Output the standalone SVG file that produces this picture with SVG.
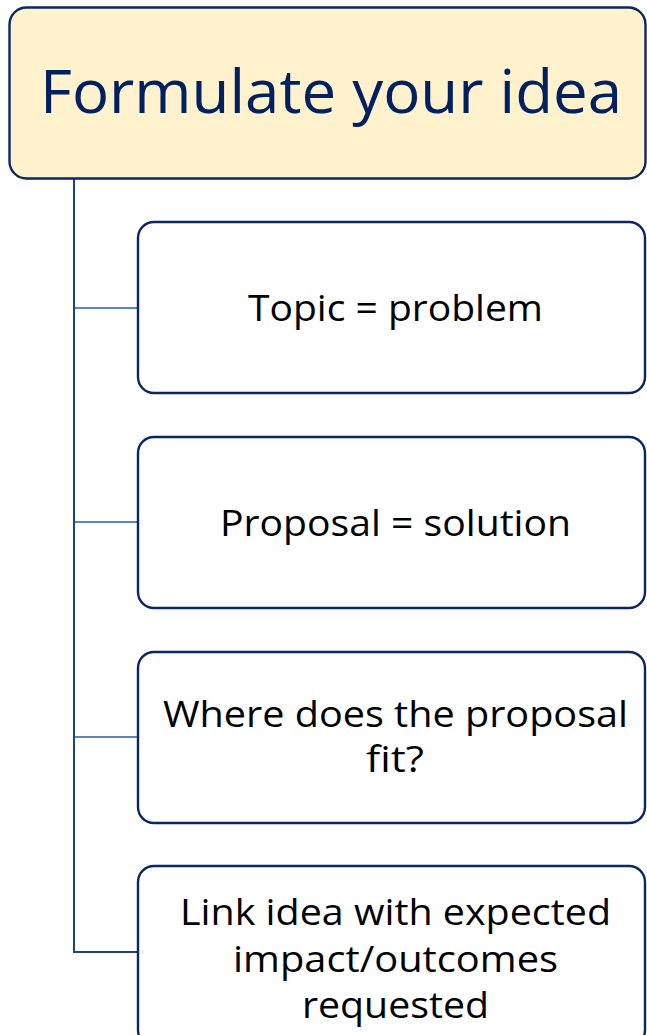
<svg xmlns="http://www.w3.org/2000/svg" width="647" height="1035" viewBox="0 0 647 1035">
<style>
.box{fill:#ffffff;stroke:#0b2664;stroke-width:2.4}
.hdr{fill:#fff2cc;stroke:#0b2664;stroke-width:2.4}
.t{font-family:"Open Sans","Liberation Sans",sans-serif;font-size:36px;fill:#000000;text-anchor:middle}
.h{font-family:"Open Sans","Liberation Sans",sans-serif;font-size:61px;fill:#002060;text-anchor:middle}
.v{stroke:#1e4383;stroke-width:2;fill:none}
.b{stroke:#5787c0;stroke-width:2;fill:none}
</style>
<rect width="647" height="1035" fill="#ffffff"/>
<g id="connectors">
<path class="v" d="M74 179 V952 H138"/>
<path class="b" d="M75 308 H138"/>
<path class="b" d="M75 522 H138"/>
<path class="b" d="M75 737 H138"/>
</g>
<g id="header">
<rect class="hdr" x="9.5" y="7.5" width="636" height="171" rx="17"/>
<text class="h" x="331" y="113" textLength="582" lengthAdjust="spacingAndGlyphs">Formulate your idea</text>
</g>
<g id="node1">
<rect class="box" x="138" y="222" width="507" height="171" rx="16"/>
<text class="t" x="395.5" y="321" textLength="295" lengthAdjust="spacingAndGlyphs">Topic = problem</text>
</g>
<g id="node2">
<rect class="box" x="138" y="437" width="507" height="171" rx="16"/>
<text class="t" x="395.5" y="536" textLength="351" lengthAdjust="spacingAndGlyphs">Proposal = solution</text>
</g>
<g id="node3">
<rect class="box" x="138" y="652" width="507" height="171" rx="16"/>
<text class="t" x="395.5" y="727" textLength="465" lengthAdjust="spacingAndGlyphs">Where does the proposal</text>
<text class="t" x="395" y="772" textLength="58" lengthAdjust="spacingAndGlyphs">fit?</text>
</g>
<g id="node4">
<rect class="box" x="138" y="866" width="507" height="180" rx="16"/>
<text class="t" x="395.5" y="925" textLength="431" lengthAdjust="spacingAndGlyphs">Link idea with expected</text>
<text class="t" x="395.5" y="972" textLength="325" lengthAdjust="spacingAndGlyphs">impact/outcomes</text>
<text class="t" x="395.5" y="1018" textLength="187" lengthAdjust="spacingAndGlyphs">requested</text>
</g>
</svg>
